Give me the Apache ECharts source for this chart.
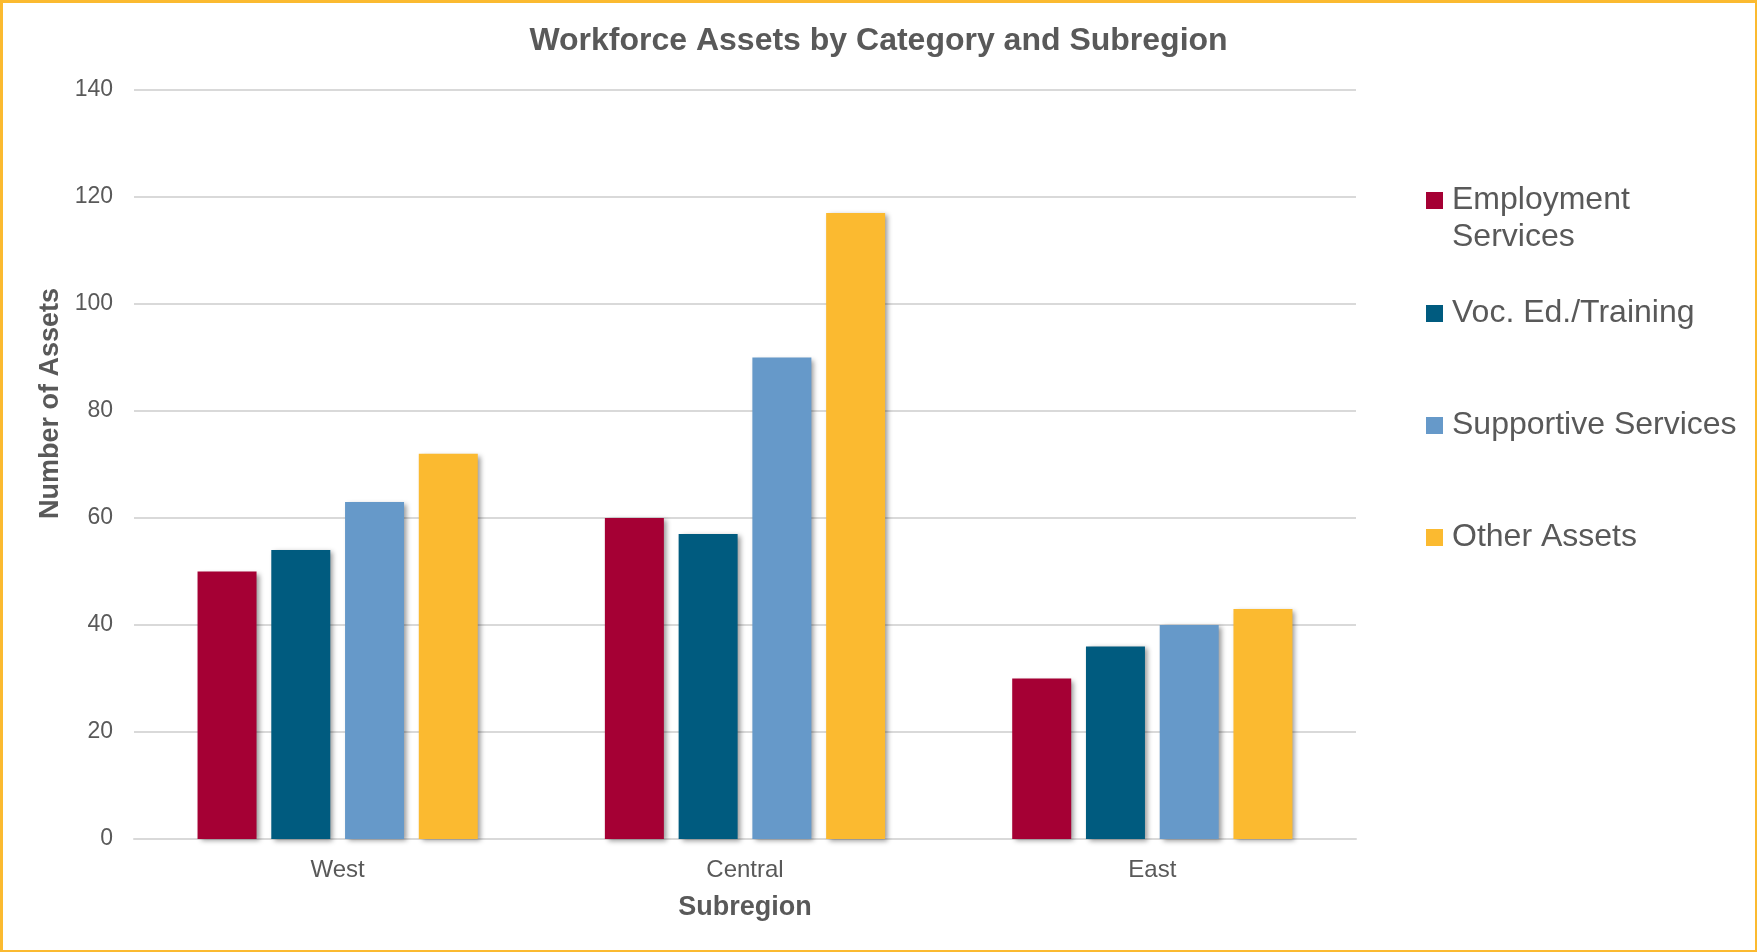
<!DOCTYPE html>
<html><head><meta charset="utf-8">
<script src="https://cdn.jsdelivr.net/npm/echarts@6/dist/echarts.min.js"></script>
<style>
html,body{margin:0;padding:0;background:#fff}
#c{width:1757px;height:952px;position:absolute;left:0;top:0}
#b{position:absolute;left:0;top:0;width:1757px;height:952px;box-sizing:border-box;border-style:solid;border-color:#FBBA30;border-width:3px 2px 2px 3px;pointer-events:none}
</style>
</head><body><div id="c"></div><div id="b"></div>
<script>
const titleText = 'Workforce Assets by Category and Subregion';
const categories = ['West', 'Central', 'East'];
const seriesNames = ['Employment Services', 'Voc. Ed./Training', 'Supportive Services', 'Other Assets'];
const seriesColors = ['#A50034', '#005B7F', '#6699C9', '#FBBA30'];
const employment = [50, 60, 30];
const vocEd = [54, 57, 36];
const supportive = [63, 90, 40];
const otherAssets = [72, 117, 43];
const yMin = 0, yMax = 140, yStep = 20;

const seriesData = [employment, vocEd, supportive, otherAssets];
const font = '"Liberation Sans", Arial, sans-serif';
const txt = '#595959';

const legendTops = [140, 290, 402, 514];
const legends = seriesNames.map((n, i) => ({
  data: [n],
  orient: 'vertical',
  left: 1421,
  top: legendTops[i],
  icon: 'rect',
  itemWidth: 17,
  itemHeight: 17,
  itemStyle: { shadowBlur: 0, shadowColor: 'transparent', shadowOffsetX: 0, shadowOffsetY: 0 },
  formatter: (name) => name === 'Employment Services' ? ' \nEmployment\nServices' : name,
  textStyle: {
    color: txt, fontSize: 32, fontFamily: font, lineHeight: 37, padding: [0, 0, 0, 4]
  },
  selectedMode: false
}));

const chart = echarts.init(document.getElementById('c'), null, { renderer: 'canvas' });
chart.setOption({
  animation: false,
  backgroundColor: '#fff',
  title: {
    text: titleText, left: 'center', top: 20,
    textStyle: { color: txt, fontSize: 32, fontWeight: 'bold', fontFamily: font }
  },
  legend: legends,
  grid: { left: 134, right: 401, top: 90, bottom: 113, containLabel: false },
  xAxis: {
    type: 'category', data: categories,
    name: 'Subregion', nameLocation: 'middle', nameGap: 55,
    nameTextStyle: { color: txt, fontSize: 27, fontWeight: 'bold', fontFamily: font },
    axisLine: { lineStyle: { color: '#D9D9D9', width: 2 } },
    axisTick: { show: false },
    axisLabel: { color: txt, fontSize: 24, fontFamily: font, margin: 19 }
  },
  yAxis: {
    type: 'value', min: yMin, max: yMax, interval: yStep,
    name: 'Number of Assets', nameLocation: 'middle', nameGap: 52, nameRotate: 90,
    nameTextStyle: { color: txt, fontSize: 27, fontWeight: 'bold', fontFamily: font, padding: [0, 0, 0, 122] },
    axisLine: { show: false }, axisTick: { show: false },
    axisLabel: { color: txt, fontSize: 23, fontFamily: font, margin: 21 },
    splitLine: { lineStyle: { color: '#D9D9D9', width: 2 } }
  },
  series: seriesNames.map((n, i) => ({
    name: n, type: 'bar', data: seriesData[i],
    barWidth: 59, barGap: '25%',
    itemStyle: {
      color: seriesColors[i],
      shadowColor: 'rgba(0,0,0,0.4)', shadowBlur: 5, shadowOffsetX: 3, shadowOffsetY: 2
    }
  }))
});
</script>
</body></html>
